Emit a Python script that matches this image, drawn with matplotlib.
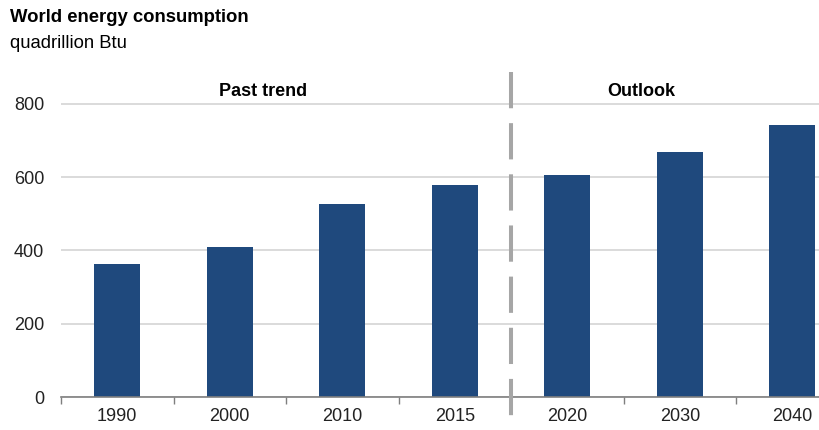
import matplotlib
matplotlib.use("Agg")
import matplotlib.pyplot as plt
import numpy as np

plt.rcParams.update({"font.family": "Liberation Sans", "font.size": 13})

years = ["1990", "2000", "2010", "2015", "2020", "2030", "2040"]
consumption = [362, 410, 527, 579, 607, 668, 741]
yticks = [0, 200, 400, 600, 800]

BAR = "#1F497D"
GRID = "#d4d4d4"
DASH = "#a6a6a6"

W, H = 819, 430
fig = plt.figure(figsize=(W / 100, H / 100), dpi=100)
# plot area runs past the right edge, so the last bar is clipped
ax = fig.add_axes([61 / W, 33 / H, 787.5 / W, 325 / H])

x = np.arange(len(years)) + 0.5
ax.bar(x, consumption, width=0.41, color=BAR, zorder=3)
ax.set_xlim(0, len(years))
ax.set_ylim(0, 887)

ax.set_yticks(yticks)
ax.set_yticklabels([str(v) for v in yticks])
ax.yaxis.grid(True, color=GRID, lw=1.2, zorder=0)
ax.tick_params(axis="y", length=0, pad=12, labelsize=13, colors="#222222")

ax.set_xticks(x)
ax.set_xticklabels(years)
ax.set_xticks(np.arange(len(years) + 1), minor=True)
ax.tick_params(axis="x", which="major", length=0, pad=8, labelsize=13, colors="#222222")
ax.tick_params(axis="x", which="minor", length=5, width=1, color="#7f7f7f", direction="out")

for s in ("top", "right", "left"):
    ax.spines[s].set_visible(False)
ax.spines["bottom"].set_color("#7f7f7f")
ax.spines["bottom"].set_linewidth(1.2)
ax.spines["bottom"].set_zorder(4)

# divider between history and projection
ln, = ax.plot([4, 4], [887, -90], color=DASH, lw=2.9, clip_on=False, zorder=5,
              solid_capstyle="butt")
ln.set_dashes((9, 3.7))
ln.set_dash_capstyle("butt")

ax.text(1.8, 835, "Past trend", ha="center", va="center", fontsize=13, fontweight="bold")
ax.text(5.16, 835, "Outlook", ha="center", va="center", fontsize=13, fontweight="bold")

fig.text(10 / W, 1 - 17 / H, "World energy consumption", ha="left", va="center",
         fontsize=13.3, fontweight="bold")
fig.text(10 / W, 1 - 44 / H, "quadrillion Btu", ha="left", va="center", fontsize=13.3)

fig.savefig("out.png", dpi=100)
